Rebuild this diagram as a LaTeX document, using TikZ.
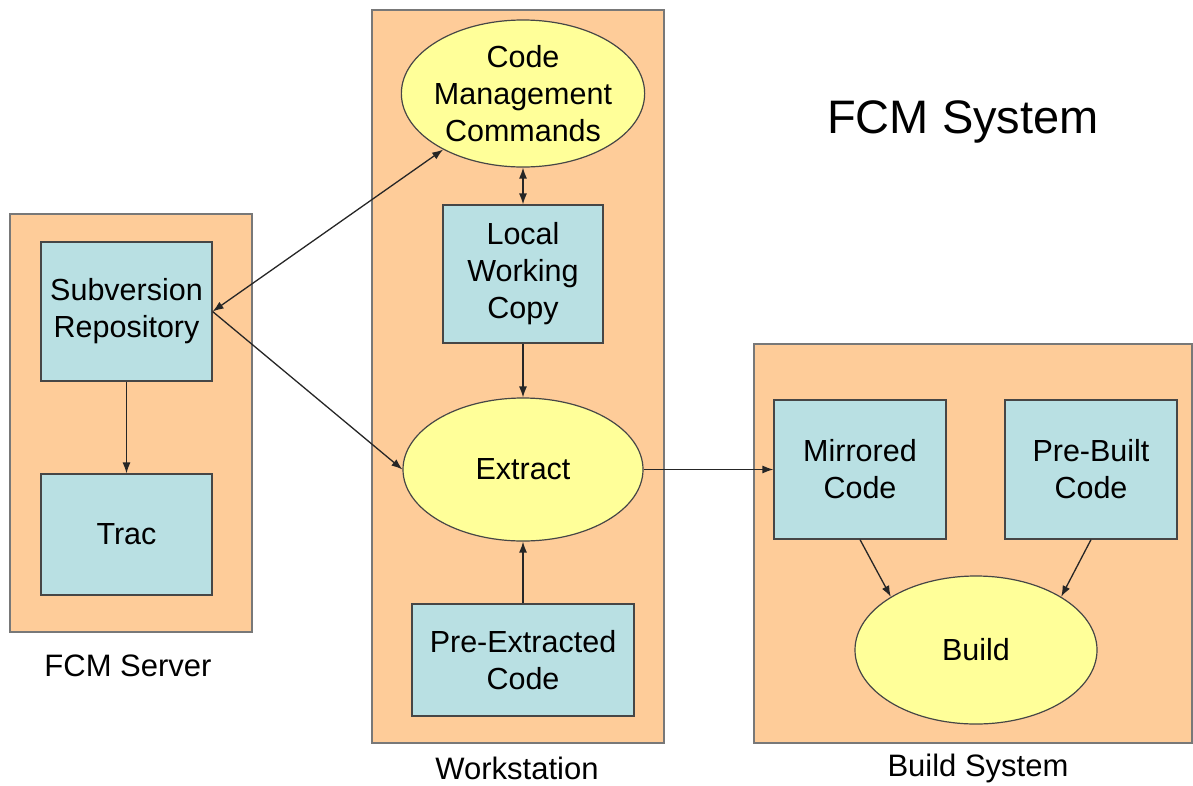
\documentclass[tikz,border=0pt]{standalone}
\usepackage{fontspec}
\setmainfont{Liberation Sans}
\usetikzlibrary{shapes.geometric,arrows.meta}
\definecolor{peach}{RGB}{254,204,153}
\definecolor{lblue}{RGB}{185,224,227}
\definecolor{lyellow}{RGB}{255,255,153}
\definecolor{frame}{RGB}{120,120,120}
\definecolor{boxline}{RGB}{70,70,70}
\tikzset{
  container/.style={draw=frame,fill=peach,line width=1.5pt},
  bluebox/.style={draw=boxline,fill=lblue,line width=1.2pt,inner sep=0pt,align=center,
    font=\fontsize{30.5}{37}\selectfont},
  oval/.style={ellipse,draw=boxline,fill=lyellow,line width=1.2pt,inner sep=0pt,align=center,
    font=\fontsize{30.5}{37}\selectfont},
  caption/.style={font=\fontsize{31}{36}\selectfont},
  conn/.style={line width=1.3pt,draw=black!85,-{Latex[length=11pt,width=8pt]}},
  dconn/.style={line width=1.3pt,draw=black!85,{Latex[length=11pt,width=8pt]}-{Latex[length=11pt,width=8pt]}}
}
\begin{document}
\begin{tikzpicture}[x=1pt,y=-1pt]
\useasboundingbox (0,0) rectangle (1193,785);
% containers
\draw[container] (10,214) rectangle (252,632);
\draw[container] (372,10) rectangle (664,743);
\draw[container] (754,344) rectangle (1192,743);
% boxes
\node[bluebox,minimum width=171pt,minimum height=139pt] (sub) at (126.5,311.5) {Subversion\\Repository};
\node[bluebox,minimum width=171pt,minimum height=121pt] (trac) at (126.5,534.5) {Trac};
\node[bluebox,minimum width=160pt,minimum height=138pt] (lwc) at (523,274) {Local\\Working\\Copy};
\node[bluebox,minimum width=222pt,minimum height=112pt] (pre) at (523,660) {Pre-Extracted\\Code};
\node[bluebox,minimum width=172pt,minimum height=139pt] (mir) at (860,469.5) {Mirrored\\Code};
\node[bluebox,minimum width=172pt,minimum height=139pt] (pb) at (1091,469.5) {Pre-Built\\Code};
% ellipses
\node[oval,inner xsep=-3pt,inner ysep=-2pt,minimum width=242pt,minimum height=147pt] (cm) at (523,93.5) {Code\\Management\\Commands};
\node[oval,minimum width=240pt,minimum height=143pt] (ext) at (523,469.5) {Extract};
\node[oval,minimum width=242pt,minimum height=148pt] (bld) at (976,650) {Build};
% labels
\node[caption] (l1) at (128,666) {FCM Server};
\node[caption] (l2) at (517,768) {Workstation};
\node[caption] (l3) at (978,768) {Build System};
\node[font=\fontsize{47}{54}\selectfont] (title) at (963,122) {FCM System};
% connectors
\draw[dconn] (sub.east) -- (cm);
\draw[conn] (sub.east) -- (ext.west);
\draw[conn] (sub) -- (trac);
\draw[dconn] (cm) -- (lwc);
\draw[conn] (lwc) -- (ext);
\draw[conn] (pre) -- (ext);
\draw[conn] (ext.east) -- (mir.west);
\draw[conn] (mir.south) -- (bld.148);
\draw[conn] (pb.south) -- (bld.32);
\end{tikzpicture}
\end{document}
